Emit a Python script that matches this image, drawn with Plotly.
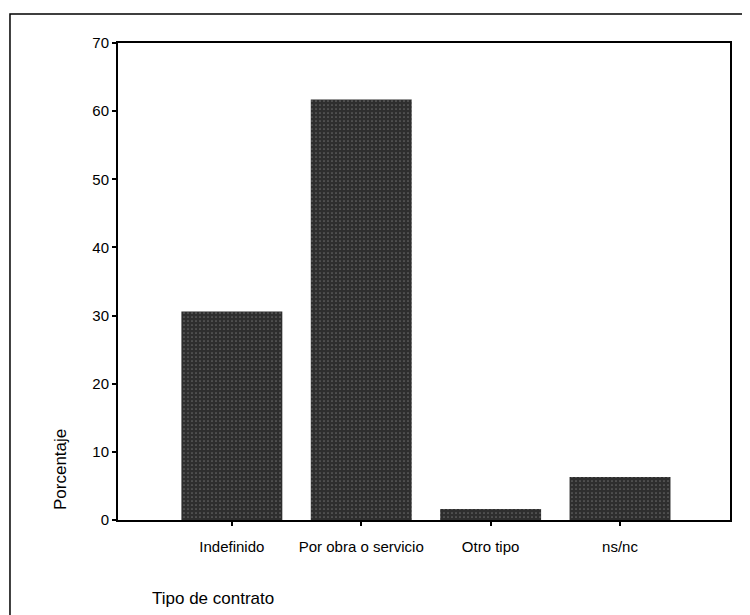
import plotly.graph_objects as go

tipos = ["Indefinido", "Por obra o servicio", "Otro tipo", "ns/nc"]
porcentaje = [30.6, 61.7, 1.6, 6.3]
y_ticks = [0, 10, 20, 30, 40, 50, 60, 70]

fuente = "Liberation Sans, Arial, sans-serif"

fig = go.Figure(go.Bar(
    x=tipos,
    y=porcentaje,
    width=0.78,
    marker=dict(
        color="#2e2e2e",
        line=dict(width=0),
        pattern=dict(shape=".", fgcolor="#a0a0a0", size=4, solidity=0.15),
    ),
))

# la pagina tiene 8px de margen en el body, asi que la figura es algo menor
fig.update_layout(
    width=742, height=607,
    margin=dict(l=110, r=20, t=35, b=95),
    plot_bgcolor="white", paper_bgcolor="white",
    font=dict(family=fuente, size=15, color="black"),
    showlegend=False,
)

fig.update_xaxes(
    range=[-0.88, 3.85],
    showline=True, linecolor="black", linewidth=1.5, mirror=True,
    ticks="outside", ticklen=4, tickwidth=2, tickcolor="black",
    showgrid=False, tickfont=dict(size=15), ticklabelstandoff=8,
)
fig.update_yaxes(
    range=[0, 70], tickvals=y_ticks,
    showline=True, linecolor="black", linewidth=2, mirror=True,
    ticks="outside", ticklen=4, tickwidth=2, tickcolor="black",
    showgrid=False, zeroline=False, tickfont=dict(size=15),
)

# marco exterior
fig.add_shape(type="rect", xref="paper", yref="paper",
              x0=-0.1765, x1=1.2, y0=-0.4, y1=1.0608,
              line=dict(color="black", width=1.5))

fig.add_annotation(text="Porcentaje", xref="paper", yref="paper",
                   x=-0.093, y=0.105, textangle=-90, showarrow=False,
                   font=dict(size=17), xanchor="center", yanchor="middle")
fig.add_annotation(text="Tipo de contrato", xref="paper", yref="paper",
                   x=0.052, y=-0.165, showarrow=False,
                   font=dict(size=17), xanchor="left", yanchor="middle")

fig.write_html("out.html")
